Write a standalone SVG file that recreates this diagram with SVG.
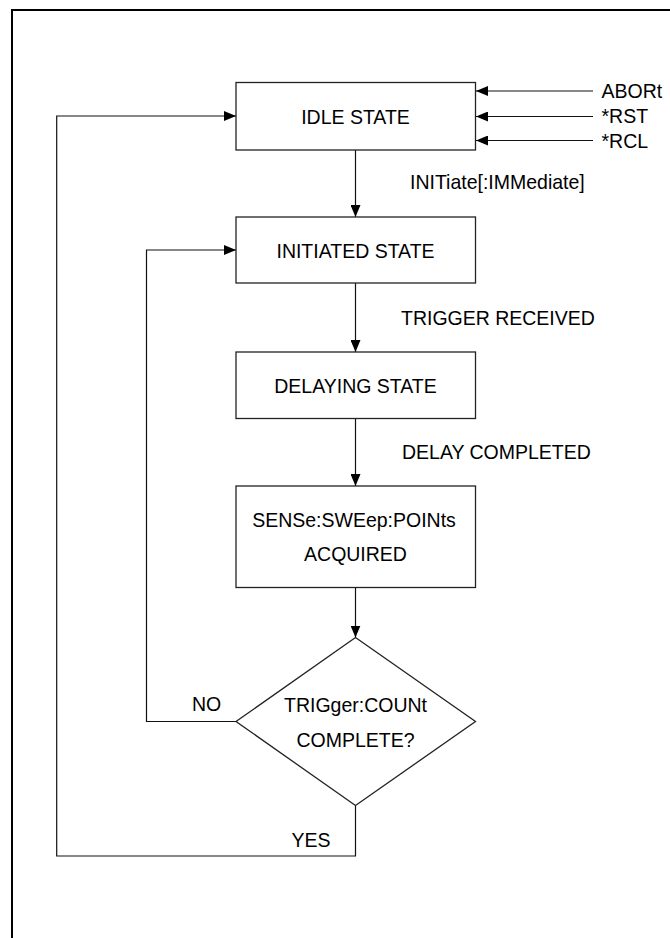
<svg xmlns="http://www.w3.org/2000/svg" width="670" height="938" viewBox="0 0 670 938">
  <style>
    .box { fill: #ffffff; stroke: #222; stroke-width: 1.3; }
    .conn { fill: none; stroke: #111; stroke-width: 1.2; }
    .frame { fill: none; stroke: #000; stroke-width: 2; }
    text { font-family: "Liberation Sans", Arial, sans-serif; font-size: 19.5px; fill: #000; }
    .c { text-anchor: middle; }
  </style>
  <defs>
    <marker id="arrow" markerUnits="userSpaceOnUse" markerWidth="12" markerHeight="10" refX="12" refY="5" orient="auto">
      <path d="M0,0 L12,5 L0,10 Z" fill="#000"/>
    </marker>
  </defs>
  <rect x="0" y="0" width="670" height="938" fill="#ffffff"/>
  <path class="frame" d="M12,940 V10 H672"/>

  <g id="connectors">
    <line class="conn" x1="593" y1="91" x2="476" y2="91" marker-end="url(#arrow)"/>
    <line class="conn" x1="593" y1="116.5" x2="476" y2="116.5" marker-end="url(#arrow)"/>
    <line class="conn" x1="593" y1="140.5" x2="476" y2="140.5" marker-end="url(#arrow)"/>
    <line class="conn" x1="355.5" y1="150" x2="355.5" y2="217" marker-end="url(#arrow)"/>
    <line class="conn" x1="355.5" y1="283" x2="355.5" y2="352" marker-end="url(#arrow)"/>
    <line class="conn" x1="355.5" y1="418.5" x2="355.5" y2="486" marker-end="url(#arrow)"/>
    <line class="conn" x1="355.5" y1="587.5" x2="355.5" y2="637.5" marker-end="url(#arrow)"/>
    <polyline class="conn" points="236,721.5 146.5,721.5 146.5,250 236,250" marker-end="url(#arrow)"/>
    <polyline class="conn" points="355.5,805.5 355.5,856 56.7,856 56.7,116 236,116" marker-end="url(#arrow)"/>
    <text transform="translate(601.5 97.5) scale(1 1.08)">ABORt</text>
    <text transform="translate(601.5 123) scale(1 1.08)">*RST</text>
    <text transform="translate(601.5 147.5) scale(1 1.08)">*RCL</text>
    <text transform="translate(410 188.5) scale(1 1.08)">INITiate[:IMMediate]</text>
    <text transform="translate(401 325) scale(1 1.08)">TRIGGER RECEIVED</text>
    <text transform="translate(402 459) scale(1 1.08)">DELAY COMPLETED</text>
    <text transform="translate(192 711) scale(1 1.08)">NO</text>
    <text transform="translate(291.5 846.5) scale(1 1.08)">YES</text>
  </g>

  <g id="idle">
    <rect class="box" x="236" y="82.5" width="239.5" height="67.5"/>
    <text class="c" transform="translate(355.5 123.5) scale(1 1.08)">IDLE STATE</text>
  </g>
  <g id="initiated">
    <rect class="box" x="236" y="217" width="239.5" height="66"/>
    <text class="c" transform="translate(355.5 257.5) scale(1 1.08)">INITIATED STATE</text>
  </g>
  <g id="delaying">
    <rect class="box" x="236" y="352" width="239.5" height="66.5"/>
    <text class="c" transform="translate(355.5 392.5) scale(1 1.08)">DELAYING STATE</text>
  </g>
  <g id="acquired">
    <rect class="box" x="236" y="486" width="239.5" height="101.5"/>
    <text class="c" transform="translate(354 527) scale(1 1.08)">SENSe:SWEep:POINts</text>
    <text class="c" transform="translate(355.5 560.5) scale(1 1.08)">ACQUIRED</text>
  </g>
  <g id="decision">
    <polygon class="box" points="355.5,637.5 475.5,721.5 355.5,805.5 236,721.5"/>
    <text class="c" transform="translate(355.5 711.5) scale(1 1.08)">TRIGger:COUNt</text>
    <text class="c" transform="translate(355.5 746.5) scale(1 1.08)">COMPLETE?</text>
  </g>
</svg>
